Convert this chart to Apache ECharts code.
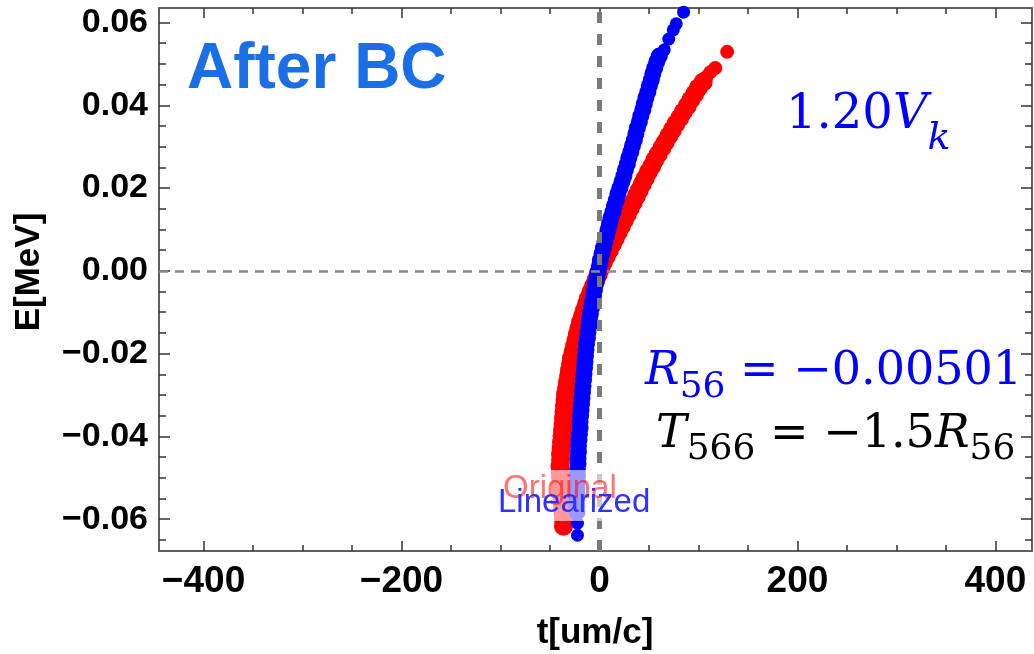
<!DOCTYPE html>
<html>
<head>
<meta charset="utf-8">
<script src="https://cdn.jsdelivr.net/npm/echarts@6/dist/echarts.min.js"></script>
<style>
html, body { margin: 0; padding: 0; background: #fff; }
#main { width: 1034px; height: 654px; }
</style>
</head>
<body>
<div id="main"></div>
<script>
// axis ranges and ticks
var tRange = [-445, 437];
var eRange = [-0.0677, 0.0635];
var xMajor = [-400, -200, 0, 200, 400];
var xMinor = [-400, -350, -300, -250, -200, -150, -100, -50, 0, 50, 100, 150, 200, 250, 300, 350, 400];
var yMajor = [-0.06, -0.04, -0.02, 0, 0.02, 0.04, 0.06];
var yMinor = [-0.065, -0.055, -0.05, -0.045, -0.035, -0.03, -0.025, -0.015, -0.01, -0.005,
  0.005, 0.01, 0.015, 0.025, 0.03, 0.035, 0.045, 0.05, 0.055];

// [t (um/c), E (MeV)]: dense band + loose end points
var original = [
  [104.8, 0.0456], [99.8, 0.0442], [96.2, 0.0427], [92.2, 0.0413], [88.7, 0.0398],
  [84.6, 0.0384], [81.1, 0.0369], [77.1, 0.0355], [73.6, 0.034], [70.0, 0.0326],
  [66.5, 0.0311], [63.0, 0.0297], [59.4, 0.0282], [55.9, 0.0268], [52.9, 0.0253],
  [49.4, 0.0239], [46.3, 0.0224], [43.3, 0.021], [40.3, 0.0195], [37.3, 0.0181],
  [34.3, 0.0166], [31.2, 0.0152], [28.2, 0.0137], [25.2, 0.0123], [22.2, 0.0108],
  [19.1, 0.0094], [16.1, 0.0079], [13.1, 0.0065], [10.1, 0.005], [7.1, 0.0036],
  [4.0, 0.0021], [1.5, 0.0007], [-1.0, -0.0008], [-3.5, -0.0022], [-6.0, -0.0037],
  [-8.6, -0.0051], [-11.1, -0.0066], [-13.1, -0.008], [-15.1, -0.0095], [-17.1, -0.0109],
  [-19.1, -0.0124], [-20.7, -0.0138], [-22.2, -0.0153], [-23.7, -0.0167], [-25.2, -0.0182],
  [-26.7, -0.0196], [-28.2, -0.0211], [-29.2, -0.0225], [-30.2, -0.024], [-31.2, -0.0254],
  [-32.2, -0.0269], [-33.2, -0.0283], [-34.3, -0.0298], [-34.8, -0.0312], [-35.3, -0.0327],
  [-35.8, -0.0341], [-36.3, -0.0356], [-36.8, -0.037], [-37.3, -0.0385], [-37.8, -0.0399],
  [-38.3, -0.0414], [-38.8, -0.0428], [-39.3, -0.0443], [-39.3, -0.0457], [-39.8, -0.0472],
  [-39.8, -0.0486], [-39.3, -0.0501], [-39.3, -0.0515], [-38.8, -0.053], [-38.3, -0.0544],
  [-37.8, -0.0559], [-37.3, -0.0573], [-36.8, -0.0588], [-36.3, -0.0602], [-36.3, -0.0617]
];
var originalEnds = [[129, 0.0529], [117, 0.049], [112, 0.048], [108, 0.0468]];

var linearized = [
  [60.5, 0.0519], [57.9, 0.0505], [55.9, 0.049], [53.9, 0.0476], [52.4, 0.0461],
  [50.4, 0.0447], [48.9, 0.0432], [46.9, 0.0418], [45.3, 0.0403], [43.8, 0.0389],
  [41.8, 0.0374], [40.3, 0.036], [38.3, 0.0345], [36.8, 0.0331], [35.3, 0.0316],
  [33.3, 0.0302], [31.7, 0.0287], [29.7, 0.0273], [28.2, 0.0258], [26.2, 0.0244],
  [24.7, 0.0229], [22.7, 0.0215], [20.7, 0.02], [18.6, 0.0186], [17.1, 0.0171],
  [15.1, 0.0157], [13.6, 0.0142], [11.6, 0.0128], [10.1, 0.0113], [8.6, 0.0099],
  [7.1, 0.0084], [5.5, 0.007], [4.0, 0.0055], [2.5, 0.0041], [1.0, 0.0026],
  [0, 0.0012], [-1.5, -0.0003], [-2.5, -0.0017], [-4.0, -0.0032], [-5.0, -0.0046],
  [-6.0, -0.0061], [-7.1, -0.0075], [-8.1, -0.009], [-9.1, -0.0104], [-10.1, -0.0119],
  [-10.6, -0.0133], [-11.6, -0.0148], [-12.1, -0.0162], [-13.1, -0.0177], [-13.6, -0.0191],
  [-14.1, -0.0206], [-14.6, -0.022], [-15.1, -0.0235], [-15.6, -0.0249], [-16.1, -0.0264],
  [-16.6, -0.0278], [-17.1, -0.0293], [-17.6, -0.0307], [-18.1, -0.0322], [-18.6, -0.0336],
  [-19.1, -0.0351], [-19.6, -0.0365], [-19.6, -0.038], [-20.2, -0.0394], [-20.7, -0.0409],
  [-21.2, -0.0423], [-21.2, -0.0438], [-21.7, -0.0452], [-21.7, -0.0467], [-22.2, -0.0481],
  [-22.2, -0.0496], [-22.2, -0.051], [-22.7, -0.0525], [-22.7, -0.0539], [-22.7, -0.0554],
  [-22.7, -0.0568], [-22.7, -0.0583]
];
var linearizedEnds = [[65.5, 0.0534], [70, 0.056], [74.6, 0.0582], [77.6, 0.0597], [85, 0.0625],
  [-22.2, -0.061], [-22.2, -0.0639]];

function minus(s) { return s.replace('-', '\u2212'); }

function xAx(pos, ticks, len, withLabels) {
  return {
    type: 'value', position: pos, min: tRange[0], max: tRange[1],
    axisLine: { show: true, onZero: false, lineStyle: { color: '#555', width: 1.5 } },
    axisTick: { show: true, inside: true, length: len, customValues: ticks, lineStyle: { color: '#333', width: 1.5 } },
    axisLabel: {
      show: withLabels, customValues: ticks, margin: 12,
      fontFamily: 'Liberation Sans', fontWeight: 'bold', fontSize: 37, color: '#000',
      formatter: function (v) { return minus(String(v)); }
    },
    splitLine: { show: false }
  };
}

function yAx(pos, ticks, len, withLabels) {
  return {
    type: 'value', position: pos, min: eRange[0], max: eRange[1],
    axisLine: { show: true, onZero: false, lineStyle: { color: '#555', width: 1.5 } },
    axisTick: { show: true, inside: true, length: len, customValues: ticks, lineStyle: { color: '#333', width: 1.5 } },
    axisLabel: {
      show: withLabels, customValues: ticks, margin: 11,
      fontFamily: 'Liberation Sans', fontWeight: 'bold', fontSize: 34, color: '#000',
      formatter: function (v) { return minus(v.toFixed(2)); }
    },
    splitLine: { show: false }
  };
}

// math-like text: pieces laid side by side, subscripts dropped below the baseline
var measureCtx = document.createElement('canvas').getContext('2d');
function mathLine(pieces, x0, base, color) {
  var els = [];
  var x = x0;
  pieces.forEach(function (p) {
    var font = (p.it ? 'italic ' : '') + p.size + 'px "DejaVu Serif"';
    measureCtx.font = font;
    els.push({
      type: 'text', z: 60, x: x, y: base + (p.dy || 0) - 0.35 * p.size,
      style: { text: p.t, font: font, fill: color, verticalAlign: 'middle' }
    });
    x += measureCtx.measureText(p.t).width;
  });
  return els;
}

var chart = echarts.init(document.getElementById('main'));

var graphics = [
  {
    type: 'text', x: 595, y: 633,
    style: { text: 't[um/c]', font: 'bold 35px "Liberation Sans"', fill: '#000', align: 'center', verticalAlign: 'middle' }
  },
  {
    type: 'text', x: 29, y: 272, rotation: Math.PI / 2,
    style: { text: 'E[MeV]', font: 'bold 35px "Liberation Sans"', fill: '#000', align: 'center', verticalAlign: 'middle' }
  },
  {
    type: 'rect', z: 50, silent: true,
    shape: { x: 498, y: 470, width: 154, height: 51 },
    style: { fill: 'rgba(255,255,255,0.6)' }
  },
  {
    type: 'text', z: 51, x: 503, y: 489,
    style: { text: 'Original', font: '33px "Liberation Sans"', fill: 'rgba(255,0,0,0.55)', verticalAlign: 'middle' }
  },
  {
    type: 'text', z: 52, x: 498, y: 503,
    style: { text: 'Linearized', font: '33px "Liberation Sans"', fill: '#3030ff', verticalAlign: 'middle' }
  },
  {
    type: 'text', z: 60, x: 187, y: 70,
    style: { text: 'After BC', font: 'bold 64px "Liberation Sans"', fill: '#1b6fe6', verticalAlign: 'middle' }
  }
].concat(
  mathLine([{ t: '1.20', size: 48 }, { t: 'V', it: true, size: 48 }, { t: 'k', it: true, size: 38, dy: 20 }],
    786, 132, '#0000ff'),
  mathLine([{ t: 'R', it: true, size: 46 }, { t: '56', size: 36, dy: 12 }, { t: ' = \u22120.00501', size: 46 }],
    645, 388, '#0000ff'),
  mathLine([{ t: 'T', it: true, size: 46 }, { t: '566', size: 36, dy: 11 }, { t: ' = \u22121.5', size: 46 },
    { t: 'R', it: true, size: 46 }, { t: '56', size: 36, dy: 11 }], 656, 451, '#000')
);

var option = {
  backgroundColor: '#fff',
  animation: false,
  grid: { left: 159, right: 2, top: 8, bottom: 103, containLabel: false, outerBoundsMode: 'none' },
  xAxis: [
    xAx('bottom', xMajor, 10, true),
    xAx('bottom', xMinor, 6, false),
    xAx('top', xMajor, 10, false),
    xAx('top', xMinor, 6, false)
  ],
  yAxis: [
    yAx('left', yMajor, 11, true),
    yAx('left', yMinor, 7, false),
    yAx('right', yMajor, 11, false),
    yAx('right', yMinor, 7, false)
  ],
  series: [
    {
      type: 'scatter', data: [], z: 1, silent: true,
      markLine: {
        symbol: 'none', silent: true, label: { show: false },
        data: [
          { xAxis: 0, lineStyle: { color: '#7a7a7a', width: 5, type: [11, 11] } },
          { yAxis: 0, lineStyle: { color: '#888', width: 2.5, type: [9, 7] } }
        ]
      }
    },
    {
      name: 'Original', type: 'scatter', data: original, z: 2,
      symbolSize: 19, clip: false, itemStyle: { color: '#ff0000', opacity: 1 }
    },
    {
      name: 'Original', type: 'scatter', data: originalEnds, z: 2,
      symbolSize: 14, clip: false, itemStyle: { color: '#ff0000', opacity: 1 }
    },
    {
      name: 'Linearized', type: 'scatter', data: linearized, z: 3,
      symbolSize: 17, clip: false, itemStyle: { color: '#0000ff', opacity: 1 }
    },
    {
      name: 'Linearized', type: 'scatter', data: linearizedEnds, z: 3,
      symbolSize: 13, clip: false, itemStyle: { color: '#0000ff', opacity: 1 }
    }
  ],
  graphic: graphics
};

chart.setOption(option);
</script>
</body>
</html>
